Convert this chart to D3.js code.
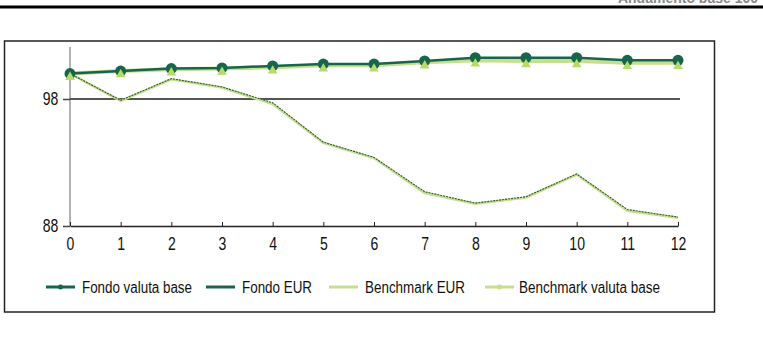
<!DOCTYPE html>
<html><head><meta charset="utf-8">
<script src="https://cdn.jsdelivr.net/npm/d3@7"></script>
<style>
html,body{margin:0;padding:0;background:#fff;}
svg{display:block;}
text{font-family:"Liberation Sans",Arial,sans-serif;}
</style></head>
<body>
<svg id="c" width="763" height="340"></svg>
<script>
const categories = [0,1,2,3,4,5,6,7,8,9,10,11,12];
const fondoValutaBase = [100.0,100.2,100.4,100.45,100.6,100.75,100.75,101.0,101.25,101.25,101.25,101.05,101.05];
const benchmarkValutaBase = [100.0,100.2,100.35,100.4,100.5,100.65,100.65,100.9,101.05,101.0,101.0,100.85,100.85];
const fondoEUR = [100.0,97.9,99.6,98.95,97.7,94.6,93.4,90.7,89.8,90.3,92.1,89.3,88.7];
const benchmarkEUR = [100.0,97.85,99.55,98.9,97.6,94.55,93.35,90.6,89.75,90.25,92.05,89.2,88.65];
const yTicks = [88,98];
const seriesNames = ["Fondo valuta base","Fondo EUR","Benchmark EUR","Benchmark valuta base"];

const dark = "#17664c", light = "#c6df8a", tri = "#b9d968";
const svg = d3.select("#c");

// header rule and cut-off title
svg.append("text").attr("x",758).attr("y",3).attr("text-anchor","end")
  .attr("font-size",14).attr("font-weight","bold").attr("fill","#888").text("Andamento base 100");
svg.append("rect").attr("x",0).attr("y",5.5).attr("width",763).attr("height",3).attr("fill","#000");

// frame
svg.append("rect").attr("x",4.5).attr("y",41).attr("width",710).attr("height",271)
  .attr("fill","#fff").attr("stroke","#222").attr("stroke-width",1.5);

const x = d3.scaleLinear().domain([0,12]).range([70,678]);
const y = d3.scaleLinear().domain([88,98]).range([226,99]);

// y axis vertical line
svg.append("line").attr("x1",x(0)).attr("x2",x(0)).attr("y1",47).attr("y2",y(88))
  .attr("stroke","#999").attr("stroke-width",1.5);

// y ticks
const yAx = svg.append("g").attr("transform",`translate(${x(0)},0)`)
  .call(d3.axisLeft(y).tickValues(yTicks).tickSize(7).tickPadding(5));
yAx.select(".domain").remove();
yAx.selectAll("line").attr("stroke","#444").attr("stroke-width",1.5);
yAx.selectAll("text").attr("font-size",18).attr("fill","#111").attr("x",-15)
  .attr("transform","scale(0.78,1)");
// grid line at 98
svg.append("line").attr("x1",x(0)).attr("x2",x(12)+2).attr("y1",y(98)).attr("y2",y(98))
  .attr("stroke","#555").attr("stroke-width",2);

// x axis
const xAx = svg.append("g").attr("transform",`translate(0,${y(88)})`)
  .call(d3.axisBottom(x).tickValues(categories).tickFormat(d3.format("d")).tickSizeInner(-4).tickSizeOuter(0).tickPadding(11));
xAx.select(".domain").attr("stroke","#222").attr("stroke-width",1.5);
xAx.selectAll("line").attr("stroke","#222");
xAx.selectAll("text").attr("font-size",19).attr("fill","#111").attr("transform","scale(0.74,1)");

const line = d3.line().x((d,i)=>x(categories[i])).y(d=>y(d));

// EUR lines (lower)
svg.append("path").datum(benchmarkEUR).attr("d",line).attr("fill","none").attr("stroke",light).attr("stroke-width",2.5);
svg.append("path").datum(fondoEUR).attr("d",line).attr("fill","none").attr("stroke","#2d5a3c").attr("stroke-width",1.1).attr("stroke-dasharray","2,1");

// valuta base lines (upper)
svg.append("path").datum(benchmarkValutaBase).attr("d",line).attr("fill","none").attr("stroke",light).attr("stroke-width",4);
svg.append("path").datum(fondoValutaBase).attr("d",line).attr("fill","none").attr("stroke",dark).attr("stroke-width",2.5);

// markers
svg.append("g").selectAll("circle").data(fondoValutaBase).join("circle")
  .attr("cx",(d,i)=>x(categories[i])).attr("cy",d=>y(d)).attr("r",5.5).attr("fill",dark);
svg.append("g").selectAll("path").data(benchmarkValutaBase).join("path")
  .attr("d",d3.symbol(d3.symbolTriangle,40))
  .attr("transform",(d,i)=>`translate(${x(categories[i])},${y(d)+3.5})`).attr("fill",tri);

// legend
const lg = [
  {name:seriesNames[0], color:dark, dot:true, lx:46, tx:82, w:110},
  {name:seriesNames[1], color:dark, dot:false, lx:206, tx:242, w:70},
  {name:seriesNames[2], color:light, dot:false, lx:329, tx:365, w:100},
  {name:seriesNames[3], color:light, dot:true, lx:485, tx:519, w:141}
];
const lgY = 287;
const lgG = svg.append("g").selectAll("g").data(lg).join("g");
lgG.append("line").attr("x1",d=>d.lx).attr("x2",d=>d.lx+29).attr("y1",lgY).attr("y2",lgY)
  .attr("stroke",d=>d.color).attr("stroke-width",3);
lgG.filter(d=>d.dot).append("circle").attr("cx",d=>d.lx+14.5).attr("cy",lgY).attr("r",2.5).attr("fill",d=>d.color);
lgG.append("text").attr("x",d=>d.tx).attr("y",lgY+6).attr("font-size",16).attr("fill","#111")
  .attr("textLength",d=>d.w).attr("lengthAdjust","spacingAndGlyphs").text(d=>d.name);
</script>
</body></html>
